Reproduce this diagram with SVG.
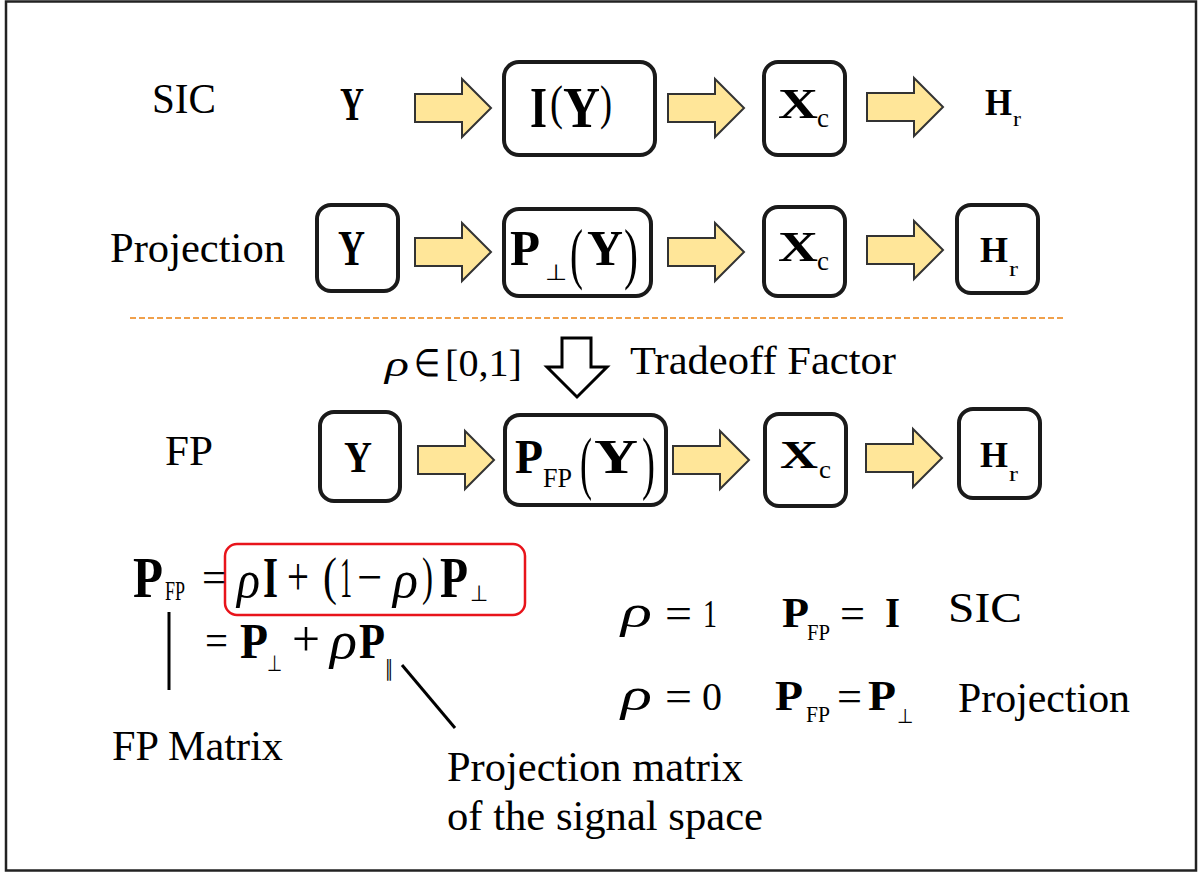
<svg xmlns="http://www.w3.org/2000/svg" xmlns:xlink="http://www.w3.org/1999/xlink" width="1199" height="873" viewBox="0 0 1199 873">
<style>
text{font-family:"Liberation Serif","Times New Roman",serif;fill:#000}
.b{font-weight:bold}
.i{font-style:italic}
.box{fill:#fff;stroke:#1a1a1a;stroke-width:4}
.arr{fill:#FFE699;stroke:#333;stroke-width:2;stroke-linejoin:miter}
</style>
<defs>
<path id="ar" class="arr" d="M0,-14 H47 V-29 L76,0 L47,29 V14 H0 Z"/>
</defs>
<rect x="6" y="1.5" width="1190" height="869" fill="#fff" stroke="#222" stroke-width="2.5"/>

<g id="labels">
<text x="152" y="113" font-size="42" textLength="64" lengthAdjust="spacingAndGlyphs">SIC</text>
<text x="110" y="262" font-size="42" textLength="175" lengthAdjust="spacingAndGlyphs">Projection</text>
<text x="165" y="465" font-size="42" textLength="48" lengthAdjust="spacingAndGlyphs">FP</text>
</g>

<g id="connectors">
<use xlink:href="#ar" transform="translate(415,108)"/>
<use xlink:href="#ar" transform="translate(668,108)"/>
<use xlink:href="#ar" transform="translate(867,107)"/>
<use xlink:href="#ar" transform="translate(415,252)"/>
<use xlink:href="#ar" transform="translate(668,252)"/>
<use xlink:href="#ar" transform="translate(867,250)"/>
<use xlink:href="#ar" transform="translate(418,460)"/>
<use xlink:href="#ar" transform="translate(673,460)"/>
<use xlink:href="#ar" transform="translate(866,458)"/>
<path d="M562,338 H591 V367 H607 L577,397 L547,367 H562 Z" fill="#fff" stroke="#000" stroke-width="3"/>
<line x1="169" y1="612" x2="169" y2="690" stroke="#000" stroke-width="3"/>
<line x1="402" y1="665" x2="455" y2="728" stroke="#000" stroke-width="3"/>
</g>

<line id="divider" x1="130" y1="318" x2="1065" y2="318" stroke="#F0A04B" stroke-width="2" stroke-dasharray="6,3"/>

<!-- Row 1 -->
<g id="sic-y">
<text class="b" x="340" y="120" font-size="46" textLength="24" lengthAdjust="spacingAndGlyphs">Y</text>
</g>
<g id="sic-iy">
<rect class="box" x="504" y="62" width="151" height="93" rx="15"/>
<text class="b" x="530" y="127" font-size="58" textLength="17" lengthAdjust="spacingAndGlyphs">I</text>
<text x="550" y="119" font-size="49" textLength="13" lengthAdjust="spacingAndGlyphs">(</text>
<text class="b" x="563" y="127" font-size="58" textLength="37" lengthAdjust="spacingAndGlyphs">Y</text>
<text x="600" y="119" font-size="49" textLength="12" lengthAdjust="spacingAndGlyphs">)</text>
</g>
<g id="sic-xc">
<rect class="box" x="764" y="62" width="81" height="93" rx="14"/>
<text class="b" x="778" y="118" font-size="42" textLength="40" lengthAdjust="spacingAndGlyphs">X</text>
<text x="817" y="127" font-size="28" textLength="12" lengthAdjust="spacingAndGlyphs">c</text>
</g>
<g id="sic-hr">
<text class="b" x="985" y="115" font-size="38" textLength="27" lengthAdjust="spacingAndGlyphs">H</text>
<text x="1013" y="126" font-size="22" textLength="8" lengthAdjust="spacingAndGlyphs">r</text>
</g>

<!-- Row 2 -->
<g id="proj-y">
<rect class="box" x="317" y="205" width="81" height="86" rx="14"/>
<text class="b" x="338" y="265" font-size="50" textLength="27" lengthAdjust="spacingAndGlyphs">Y</text>
</g>
<g id="proj-py">
<rect class="box" x="504" y="209" width="147" height="87" rx="15"/>
<text class="b" x="510" y="265" font-size="50" textLength="30" lengthAdjust="spacingAndGlyphs">P</text>
<text x="545" y="280" font-size="22" textLength="22" lengthAdjust="spacingAndGlyphs">⊥</text>
<text x="570" y="276" font-size="68" textLength="13" lengthAdjust="spacingAndGlyphs">(</text>
<text class="b" x="587" y="265" font-size="50" textLength="36" lengthAdjust="spacingAndGlyphs">Y</text>
<text x="624" y="276" font-size="68" textLength="14" lengthAdjust="spacingAndGlyphs">)</text>
</g>
<g id="proj-xc">
<rect class="box" x="764" y="207" width="81" height="89" rx="14"/>
<text class="b" x="778" y="261" font-size="42" textLength="40" lengthAdjust="spacingAndGlyphs">X</text>
<text x="817" y="270" font-size="28" textLength="12" lengthAdjust="spacingAndGlyphs">c</text>
</g>
<g id="proj-hr">
<rect class="box" x="957" y="205" width="81" height="88" rx="14"/>
<text class="b" x="980" y="262" font-size="36" textLength="28" lengthAdjust="spacingAndGlyphs">H</text>
<text x="1009" y="276" font-size="22" textLength="9" lengthAdjust="spacingAndGlyphs">r</text>
</g>

<!-- Middle -->
<g id="tradeoff">
<text class="i" x="385" y="376" font-size="36" textLength="24" lengthAdjust="spacingAndGlyphs">ρ</text>
<text x="414" y="376" font-size="38" textLength="26" lengthAdjust="spacingAndGlyphs">∈</text>
<text x="445" y="376" font-size="38" textLength="77" lengthAdjust="spacingAndGlyphs">[0,1]</text>
<text x="630" y="374" font-size="41" textLength="266" lengthAdjust="spacingAndGlyphs">Tradeoff Factor</text>
</g>

<!-- Row 3 -->
<g id="fp-y">
<rect class="box" x="320" y="412" width="80" height="89" rx="14"/>
<text class="b" x="344" y="472" font-size="45" textLength="28" lengthAdjust="spacingAndGlyphs">Y</text>
</g>
<g id="fp-py">
<rect class="box" x="505" y="415" width="161" height="90" rx="15"/>
<text class="b" x="515" y="473" font-size="48" textLength="28" lengthAdjust="spacingAndGlyphs">P</text>
<text x="543" y="487" font-size="28" textLength="29" lengthAdjust="spacingAndGlyphs">FP</text>
<text x="580" y="486" font-size="70" textLength="12" lengthAdjust="spacingAndGlyphs">(</text>
<text class="b" x="594" y="473" font-size="48" textLength="44" lengthAdjust="spacingAndGlyphs">Y</text>
<text x="642" y="486" font-size="70" textLength="13" lengthAdjust="spacingAndGlyphs">)</text>
</g>
<g id="fp-xc">
<rect class="box" x="765" y="414" width="81" height="92" rx="14"/>
<text class="b" x="780" y="468" font-size="40" textLength="38" lengthAdjust="spacingAndGlyphs">X</text>
<text x="819" y="478" font-size="26" textLength="12" lengthAdjust="spacingAndGlyphs">c</text>
</g>
<g id="fp-hr">
<rect class="box" x="959" y="409" width="81" height="89" rx="14"/>
<text class="b" x="980" y="467" font-size="36" textLength="28" lengthAdjust="spacingAndGlyphs">H</text>
<text x="1009" y="481" font-size="22" textLength="9" lengthAdjust="spacingAndGlyphs">r</text>
</g>

<!-- Bottom-left formulas -->
<g id="fp-formula">
<rect x="225" y="544" width="300" height="71" rx="12" fill="none" stroke="#E8141B" stroke-width="2.5"/>
<text class="b" x="133" y="597" font-size="58" textLength="30" lengthAdjust="spacingAndGlyphs">P</text>
<text x="165" y="600" font-size="27" textLength="20" lengthAdjust="spacingAndGlyphs">FP</text>
<text x="202" y="592" font-size="44" textLength="24" lengthAdjust="spacingAndGlyphs">=</text>
<text class="i" x="237" y="597" font-size="52" textLength="23" lengthAdjust="spacingAndGlyphs">ρ</text>
<text class="b" x="263" y="597" font-size="58" textLength="15" lengthAdjust="spacingAndGlyphs">I</text>
<text x="287" y="595" font-size="54" textLength="22" lengthAdjust="spacingAndGlyphs">+</text>
<text x="323" y="594" font-size="52" textLength="14" lengthAdjust="spacingAndGlyphs">(</text>
<text x="340" y="597" font-size="56" textLength="12" lengthAdjust="spacingAndGlyphs">1</text>
<text x="357" y="594" font-size="50" textLength="25" lengthAdjust="spacingAndGlyphs">−</text>
<text class="i" x="393" y="597" font-size="52" textLength="25" lengthAdjust="spacingAndGlyphs">ρ</text>
<text x="422" y="594" font-size="52" textLength="11" lengthAdjust="spacingAndGlyphs">)</text>
<text class="b" x="440" y="597" font-size="58" textLength="28" lengthAdjust="spacingAndGlyphs">P</text>
<text x="470" y="601" font-size="22" textLength="18" lengthAdjust="spacingAndGlyphs">⊥</text>

<text x="205" y="655" font-size="44" textLength="23" lengthAdjust="spacingAndGlyphs">=</text>
<text class="b" x="240" y="658" font-size="50" textLength="28" lengthAdjust="spacingAndGlyphs">P</text>
<text x="267" y="671" font-size="22" textLength="15" lengthAdjust="spacingAndGlyphs">⊥</text>
<text x="292" y="656" font-size="50" textLength="28" lengthAdjust="spacingAndGlyphs">+</text>
<text class="i" x="330" y="658" font-size="52" textLength="27" lengthAdjust="spacingAndGlyphs">ρ</text>
<text class="b" x="359" y="658" font-size="50" textLength="26" lengthAdjust="spacingAndGlyphs">P</text>
<text x="385" y="676" font-size="22" textLength="8" lengthAdjust="spacingAndGlyphs">∥</text>
</g>

<g id="fp-matrix-label">
<text x="112" y="760" font-size="42" textLength="171" lengthAdjust="spacingAndGlyphs">FP Matrix</text>
</g>
<g id="proj-matrix-label">
<text x="447" y="781" font-size="42" textLength="296" lengthAdjust="spacingAndGlyphs">Projection matrix</text>
<text x="447" y="830" font-size="42" textLength="316" lengthAdjust="spacingAndGlyphs">of the signal space</text>
</g>

<!-- Right cases -->
<g id="case-sic">
<text class="i" x="621" y="627" font-size="46" textLength="31" lengthAdjust="spacingAndGlyphs">ρ</text>
<text x="665" y="628" font-size="44" textLength="27" lengthAdjust="spacingAndGlyphs">=</text>
<text x="703" y="627" font-size="41" textLength="14" lengthAdjust="spacingAndGlyphs">1</text>
<text class="b" x="782" y="627" font-size="42" textLength="27" lengthAdjust="spacingAndGlyphs">P</text>
<text x="807" y="640" font-size="23" textLength="23" lengthAdjust="spacingAndGlyphs">FP</text>
<text x="840" y="628" font-size="44" textLength="25" lengthAdjust="spacingAndGlyphs">=</text>
<text class="b" x="885" y="627" font-size="42" textLength="15" lengthAdjust="spacingAndGlyphs">I</text>
<text x="948" y="622" font-size="42" textLength="74" lengthAdjust="spacingAndGlyphs">SIC</text>
</g>
<g id="case-proj">
<text class="i" x="621" y="710" font-size="46" textLength="31" lengthAdjust="spacingAndGlyphs">ρ</text>
<text x="665" y="711" font-size="44" textLength="27" lengthAdjust="spacingAndGlyphs">=</text>
<text x="702" y="710" font-size="41" textLength="20" lengthAdjust="spacingAndGlyphs">0</text>
<text class="b" x="775" y="710" font-size="42" textLength="28" lengthAdjust="spacingAndGlyphs">P</text>
<text x="806" y="722" font-size="23" textLength="24" lengthAdjust="spacingAndGlyphs">FP</text>
<text x="837" y="711" font-size="44" textLength="25" lengthAdjust="spacingAndGlyphs">=</text>
<text class="b" x="868" y="710" font-size="42" textLength="28" lengthAdjust="spacingAndGlyphs">P</text>
<text x="897" y="723" font-size="20" textLength="16" lengthAdjust="spacingAndGlyphs">⊥</text>
<text x="958" y="712" font-size="42" textLength="172" lengthAdjust="spacingAndGlyphs">Projection</text>
</g>
</svg>
